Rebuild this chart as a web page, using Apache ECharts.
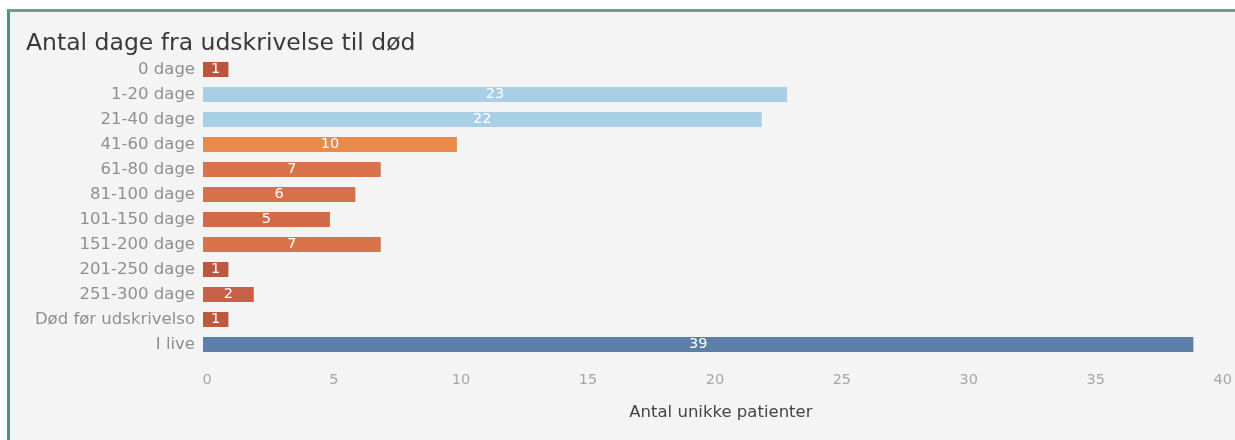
<!DOCTYPE html>
<html>
<head>
<meta charset="utf-8">
<script src="https://cdn.jsdelivr.net/npm/echarts@6/dist/echarts.min.js"></script>
<style>
html,body{margin:0;padding:0;background:#ffffff;}
#frame{position:absolute;left:7px;top:9px;width:1228px;height:431px;box-sizing:border-box;border-left:3px solid #4f8f7e;border-top:3px solid #6a9e90;background:#f4f4f4;}
#chart{position:absolute;left:0;top:0;width:1235px;height:440px;}
</style>
</head>
<body>
<div id="frame"></div>
<div id="chart"></div>
<script>
const categories = ["0 dage","1-20 dage","21-40 dage","41-60 dage","61-80 dage","81-100 dage","101-150 dage","151-200 dage","201-250 dage","251-300 dage","Død før udskrivelso","I live"];
const values = [1,23,22,10,7,6,5,7,1,2,1,39];
const barColors = ["#b9563c","#a9cfe7","#a9cfe7","#e78a4b","#d9744a","#d6714a","#d26c48","#d9744a","#bd5840","#c85f48","#be5940","#5b7fa7"];
const xTicks = [0,5,10,15,20,25,30,35,40];

const chart = echarts.init(document.getElementById('chart'), null, {renderer:'canvas'});
chart.setOption({
  backgroundColor:'transparent',
  animation:false,
  title:{
    text:'Antal dage fra udskrivelse til død',
    left:21, top:27,
    textStyle:{fontFamily:'DejaVu Sans', fontSize:23.5, fontWeight:'normal', color:'#3a3a3a'}
  },
  grid:{left:203, top:57, width:1020, height:300, containLabel:false},
  xAxis:{
    type:'value', min:xTicks[0], max:xTicks[xTicks.length-1], interval:5,
    axisLine:{show:false}, axisTick:{show:false}, splitLine:{show:false},
    axisLabel:{color:'#a6a6a6', fontFamily:'DejaVu Sans', fontSize:14.5, margin:16, padding:[0,0,0,8]},
    name:'Antal unikke patienter', nameLocation:'middle', nameGap:47,
    nameTextStyle:{color:'#444444', fontFamily:'DejaVu Sans', fontSize:16.5, padding:[0,0,0,20]}
  },
  yAxis:{
    type:'category', data:categories, inverse:true,
    axisLine:{show:false}, axisTick:{show:false}, splitLine:{show:false},
    axisLabel:{color:'#8f8f8f', fontFamily:'DejaVu Sans', fontSize:16.5, margin:8}
  },
  series:[{
    type:'bar',
    data:values.map((v,i)=>({value:v, itemStyle:{color:barColors[i]}})),
    barWidth:15,
    label:{show:true, position:'inside', color:'#ffffff', fontFamily:'DejaVu Sans', fontSize:14.5}
  }]
});
</script>
</body>
</html>
